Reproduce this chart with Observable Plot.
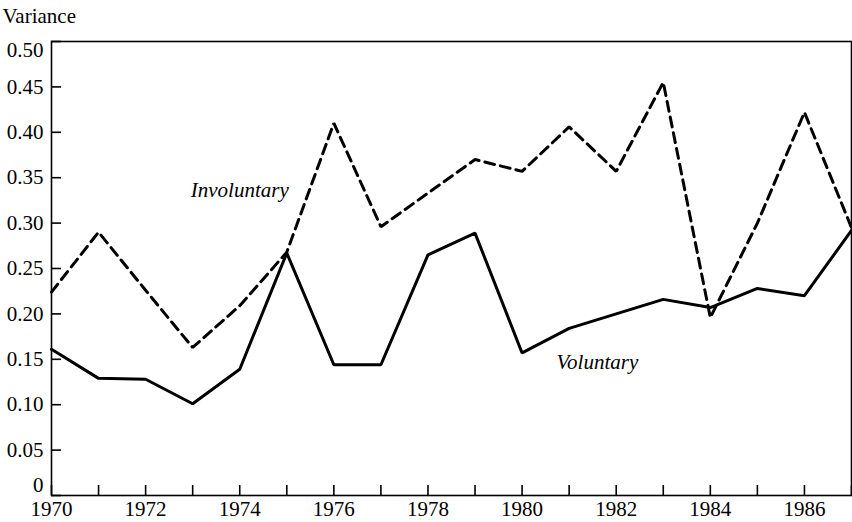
<!DOCTYPE html>
<html>
<head>
<meta charset="utf-8">
<script src="https://cdn.jsdelivr.net/npm/d3@7"></script>
<script src="https://cdn.jsdelivr.net/npm/@observablehq/plot@0.6"></script>
<style>
  html, body { margin: 0; padding: 0; background: #fff; }
  #chart svg { display: block; }
</style>
</head>
<body>
<div id="chart"></div>
<script>
const years = d3.range(1970, 1988);
const voluntary = [0.161, 0.129, 0.128, 0.101, 0.139, 0.267, 0.144, 0.144, 0.265, 0.289, 0.157, 0.184, 0.200, 0.216, 0.207, 0.228, 0.220, 0.292];
const involuntary = [0.224, 0.290, 0.226, 0.163, 0.209, 0.268, 0.410, 0.296, 0.333, 0.370, 0.357, 0.406, 0.357, 0.455, 0.196, 0.300, 0.422, 0.295];
const xTickLabels = [1970, 1972, 1974, 1976, 1978, 1980, 1982, 1984, 1986];
const yTicks = [0, 0.05, 0.10, 0.15, 0.20, 0.25, 0.30, 0.35, 0.40, 0.45, 0.50];
const yTitle = "Variance";
const seriesLabels = ["Involuntary", "Voluntary"];
const labelYears = [1974.0, 1981.6];
const labelValues = [0.336, 0.1465];

const W = 852, H = 522;
const mL = 51, mR = 1, mT = 41, mB = 27;
const frameW = W - mL - mR, frameH = H - mT - mB;

const volData = years.map((y, i) => ({year: y, v: voluntary[i]}));
const invData = years.map((y, i) => ({year: y, v: involuntary[i]}));
const labData = seriesLabels.map((t, i) => ({text: t, year: labelYears[i], v: labelValues[i]}));

const yFmt = d => d === 0 ? "0" : d.toFixed(2);
const yMid = yTicks.slice(1, -1);
const yLow = yTicks.slice(0, 1);
const yTop = yTicks.slice(-1);

const chart = Plot.plot({
  width: W,
  height: H,
  marginLeft: mL,
  marginRight: mR,
  marginTop: mT,
  marginBottom: mB,
  style: {fontFamily: "'Liberation Serif', 'DejaVu Serif', serif", fontSize: "21px", color: "#000", background: "#fff"},
  x: {domain: [1970, 1987]},
  y: {domain: [0, 0.5]},
  marks: [
    Plot.frame({stroke: "#000", strokeWidth: 1.6}),
    Plot.tickX(years, {x: d => d, stroke: "#000", strokeWidth: 1.6, insetTop: frameH - 10}),
    Plot.tickY(yTicks, {y: d => d, stroke: "#000", strokeWidth: 1.6, insetRight: frameW - 10}),
    Plot.axisX({ticks: xTickLabels, tickSize: 0, tickPadding: 6, tickFormat: d => String(d), fontSize: 21, label: null}),
    Plot.axisY({ticks: yMid, tickSize: 0, tickPadding: 8, tickFormat: yFmt, fontSize: 21, label: null}),
    Plot.axisY({ticks: yLow, tickSize: 0, tickPadding: 8, tickFormat: yFmt, fontSize: 21, label: null, dy: -10}),
    Plot.axisY({ticks: yTop, tickSize: 0, tickPadding: 8, tickFormat: yFmt, fontSize: 21, label: null, dy: 9}),
    Plot.line(invData, {x: "year", y: "v", stroke: "#000", strokeWidth: 3, strokeDasharray: "10,6", strokeLinejoin: "miter"}),
    Plot.line(volData, {x: "year", y: "v", stroke: "#000", strokeWidth: 3, strokeLinejoin: "miter"}),
    Plot.text(labData, {x: "year", y: "v", text: "text", fontStyle: "italic", fontSize: 21, fill: "#000"}),
    Plot.text([yTitle], {frameAnchor: "top-left", dx: -49, dy: -19, lineAnchor: "bottom", textAnchor: "start", fontSize: 21, fill: "#000"})
  ]
});
document.getElementById("chart").appendChild(chart);
</script>
</body>
</html>
